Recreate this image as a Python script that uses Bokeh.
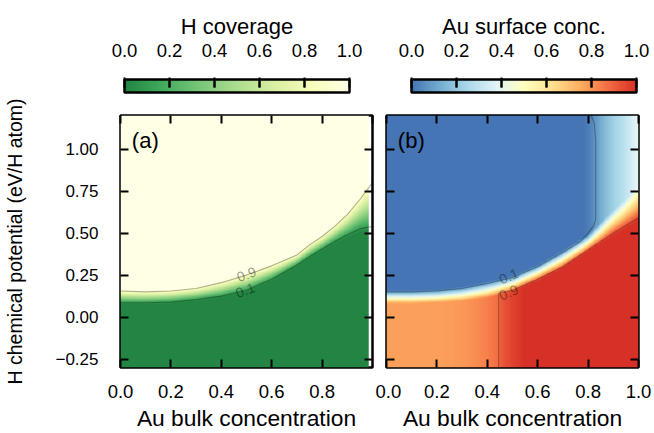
import numpy as np
from bokeh.plotting import figure
from bokeh.layouts import row, column
from bokeh.models import LinearColorMapper, FixedTicker, LinearAxis, Range1d, Title
from bokeh.core.properties import value
from bokeh.embed import file_html
from bokeh.resources import INLINE

FONT = "Liberation Sans"

# ---------------- data ----------------
# Panel (a): H coverage. Transition band edges (0.1 and 0.9 contours) vs Au bulk concentration
a_x = [0.0, 0.1, 0.2, 0.3, 0.4, 0.5, 0.6, 0.7, 0.75, 0.8, 0.85, 0.9, 0.95, 1.0]
a_c01 = [0.085, 0.085, 0.09, 0.105, 0.125, 0.16, 0.225, 0.31, 0.36, 0.405, 0.45, 0.49, 0.525, 0.54]
a_c09 = [0.155, 0.15, 0.155, 0.17, 0.205, 0.25, 0.305, 0.37, 0.43, 0.48, 0.54, 0.61, 0.70, 0.80]
a_x_max = 0.985

# Panel (b): Au surface concentration
b_x = [0.0, 0.1, 0.2, 0.3, 0.4, 0.5, 0.6, 0.7, 0.8, 0.9, 1.0]
b_band_lo = [0.09, 0.09, 0.095, 0.105, 0.125, 0.16, 0.225, 0.30, 0.40, 0.50, 0.59]
b_band_hi = [0.15, 0.15, 0.155, 0.17, 0.20, 0.235, 0.30, 0.385, 0.48, 0.62, 0.75]
# surface conc. below the band (low H potential)
b_low_x = [0.0, 0.2, 0.3, 0.35, 0.4, 0.44, 0.46, 0.5, 0.55, 1.0]
b_low_v = [0.775, 0.775, 0.79, 0.81, 0.84, 0.87, 0.92, 0.96, 1.0, 1.0]
# surface conc. above the band (high H potential)
b_up_x = [0.0, 0.78, 0.81, 0.84, 0.87, 0.9, 0.95, 1.0]
b_up_v = [0.0, 0.0, 0.03, 0.10, 0.17, 0.22, 0.30, 0.40]
# contour lines of panel (b)
b_c01_x = [0.0, 0.1, 0.2, 0.3, 0.4, 0.5, 0.6, 0.7, 0.77, 0.80, 0.82, 0.83, 0.83, 0.825, 0.81]
b_c01_y = [0.15, 0.15, 0.155, 0.17, 0.20, 0.235, 0.30, 0.385, 0.45, 0.50, 0.54, 0.58, 1.05, 1.15, 1.21]
b_c09_x = [0.445, 0.445, 0.5, 0.6, 0.7, 0.8, 0.9, 1.0]
b_c09_y = [-0.3, 0.14, 0.16, 0.225, 0.30, 0.40, 0.50, 0.59]

x_ticks = [0.0, 0.2, 0.4, 0.6, 0.8, 1.0]
x_tick_labels = ["0.0", "0.2", "0.4", "0.6", "0.8", "1.0"]
a_x_ticks = [0.0, 0.2, 0.4, 0.6, 0.8]
y_ticks = [-0.25, 0.0, 0.25, 0.5, 0.75, 1.0]
y_tick_labels = ["\u22120.25", "0.00", "0.25", "0.50", "0.75", "1.00"]
cb_ticks = [0.0, 0.2, 0.4, 0.6, 0.8, 1.0]
cb_tick_labels = ["0.0", "0.2", "0.4", "0.6", "0.8", "1.0"]

Y_MIN, Y_MAX = -0.3, 1.2

# ---------------- layout (pixels) ----------------
FRAME = 252          # panel frame size
BAR_W, BAR_H = 225, 13   # colour-bar size
BAR_PAD = 2          # cb frame margin above/below the bar
A_LEFT, A_RIGHT = 120, 3
B_LEFT, B_RIGHT = 11, 14
A_BAR_OFF, B_BAR_OFF = 4, 25   # bar start relative to the panel frame
CB_H = 94
CB_TOP = 77
TITLE_FS = 22
# approximate text widths (em) of the colour-bar titles, for centring them on the bars
A_TITLE_EM, B_TITLE_EM = 5.113, 7.448

# ---------------- colour maps ----------------
def interp_palette(anchors, n=256):
    rgb = np.array([[int(h[i:i + 2], 16) for i in (1, 3, 5)] for h in anchors], float)
    pos = np.linspace(0, 1, len(anchors))
    out = []
    for v in np.linspace(0, 1, n):
        c = [np.interp(v, pos, rgb[:, k]) for k in range(3)]
        out.append("#%02x%02x%02x" % tuple(int(round(x)) for x in c))
    return out

greens = interp_palette(['#238443', '#41ab5d', '#78c679', '#addd8e', '#d9f0a3', '#f7fcb9', '#ffffe5'])
rdylbu = interp_palette(['#4575b4', '#74add1', '#abd9e9', '#e0f3f8', '#ffffbf',
                         '#fee090', '#fdae61', '#f46d43', '#d73027'])
map_a = LinearColorMapper(palette=greens, low=0, high=1)
map_b = LinearColorMapper(palette=rdylbu, low=0, high=1)

# ---------------- fields ----------------
NX, NY = 300, 450
gy = np.linspace(Y_MIN, Y_MAX, NY)[:, None]

gxa = np.linspace(0, a_x_max, NX)[None, :]
lo = np.interp(gxa, a_x, a_c01)
hi = np.interp(gxa, a_x, a_c09)
field_a = np.clip(0.1 + 0.8 * (gy - lo) / (hi - lo), 0, 1)

gxb = np.linspace(0, 1, NX)[None, :]
lo = np.interp(gxb, b_x, b_band_lo)
hi = np.interp(gxb, b_x, b_band_hi)
s = np.clip(0.1 + 0.8 * (gy - lo) / (hi - lo), 0, 1)
L = np.interp(gxb, b_low_x, b_low_v)
U = np.interp(gxb, b_up_x, b_up_v)
field_b = L + (U - L) * s


# ---------------- helpers ----------------
def key(t):
    return int(t) if float(t).is_integer() else t


def overrides(ticks, labels):
    return {key(t): l for t, l in zip(ticks, labels)}


def style_axis(ax, ticks, labels=None, font_size="18px"):
    ax.ticker = FixedTicker(ticks=ticks)
    ax.axis_line_color = None
    ax.major_tick_in = 8
    ax.major_tick_out = 0
    ax.major_tick_line_width = 2
    ax.major_tick_line_color = "black"
    ax.minor_tick_line_color = None
    ax.major_label_text_font = FONT
    ax.major_label_text_color = "black"
    ax.axis_label_text_font = FONT
    ax.axis_label_text_font_style = "normal"
    ax.axis_label_text_color = "black"
    if labels is None:
        ax.major_label_overrides = overrides(ticks, [""] * len(ticks))
        ax.major_label_text_font_size = "1px"
        ax.major_label_standoff = 0
    else:
        ax.major_label_overrides = overrides(ticks, labels)
        ax.major_label_text_font_size = font_size


def main_fig(left, right):
    p = figure(width=left + FRAME + right, height=433 - CB_H,
               x_range=Range1d(0, 1), y_range=Range1d(Y_MIN, Y_MAX),
               output_backend="svg", toolbar_location=None,
               min_border_left=left, min_border_right=right,
               min_border_top=115 - CB_H, min_border_bottom=66)
    p.grid.visible = False
    p.outline_line_color = "black"
    p.outline_line_width = 2.5
    p.background_fill_color = "white"
    p.border_fill_color = "white"
    top = LinearAxis()
    rgt = LinearAxis()
    style_axis(top, x_ticks)
    style_axis(rgt, y_ticks)
    p.add_layout(top, "above")
    p.add_layout(rgt, "right")
    return p


def cb_fig(left, right, bar_off, title, title_em, mapper):
    x0 = -bar_off / BAR_W
    x1 = (FRAME - bar_off) / BAR_W
    y0 = -BAR_PAD / BAR_H
    y1 = 1 + BAR_PAD / BAR_H
    p = figure(width=left + FRAME + right, height=CB_H,
               x_range=Range1d(x0, x1), y_range=Range1d(y0, y1),
               x_axis_location="above", y_axis_type=None,
               output_backend="svg", toolbar_location=None,
               min_border_left=left, min_border_right=right,
               min_border_top=CB_TOP, min_border_bottom=CB_H - CB_TOP - BAR_H - 2 * BAR_PAD)
    p.grid.visible = False
    p.outline_line_color = None
    p.background_fill_color = "white"
    p.border_fill_color = "white"
    grad = np.linspace(0, 1, 256)[None, :]
    p.image(image=[grad], x=0, y=0, dw=1, dh=1, color_mapper=mapper)
    p.quad(left=[0], right=[1], bottom=[0], top=[1], fill_color=None,
           line_color="black", line_width=2.5)
    p.ray(x=cb_ticks[1:-1], y=1, length=8, length_units="screen", angle=-np.pi / 2,
          line_color="black", line_width=2)
    ax = p.above[0]
    style_axis(ax, cb_ticks, cb_tick_labels, "18.5px")
    ax.major_tick_in = 10
    ax.major_label_standoff = 21
    offset = bar_off + BAR_W / 2 - title_em * TITLE_FS / 2
    p.add_layout(Title(text=title, align="left", offset=offset, text_font=FONT,
                       text_font_size="%dpx" % TITLE_FS, text_font_style="normal",
                       text_color="black", standoff=4), "above")
    return p


# ---------------- panel (a) ----------------
fa = main_fig(A_LEFT, A_RIGHT)
fa.image(image=[field_a], x=0, y=Y_MIN, dw=a_x_max, dh=Y_MAX - Y_MIN, color_mapper=map_a)
fa.line(a_x, a_c09, line_color="black", line_alpha=0.3, line_width=1.1)
fa.line(a_x, a_c01, line_color="black", line_alpha=0.3, line_width=1.1)
fa.text(x=[0.50, 0.495], y=[0.255, 0.16], text=["0.9", "0.1"], angle=0.35,
        text_align="center", text_baseline="middle", text_font=value(FONT),
        text_font_size="14px", text_color="black", text_alpha=0.4)
fa.text(x=[0.045], y=[1.05], text=["(a)"], text_align="left", text_baseline="middle",
        text_font=value(FONT), text_font_size="22px", text_color="black")
xa = fa.below[0]
style_axis(xa, a_x_ticks, x_tick_labels[:5], "18.5px")
xa.major_label_standoff = 17
xa.axis_label = "Au bulk concentration"
xa.axis_label_text_font_size = "22.8px"
xa.axis_label_standoff = 4
ya = fa.left[0]
style_axis(ya, y_ticks, y_tick_labels, "17px")
ya.major_label_standoff = 22
ya.axis_label = "H chemical potential (eV/H atom)"
ya.axis_label_text_font_size = "19.5px"
ya.axis_label_standoff = 26

# ---------------- panel (b) ----------------
fb = main_fig(B_LEFT, B_RIGHT)
fb.image(image=[field_b], x=0, y=Y_MIN, dw=1, dh=Y_MAX - Y_MIN, color_mapper=map_b)
fb.line(b_c01_x, b_c01_y, line_color="black", line_alpha=0.3, line_width=1.1)
fb.line(b_c09_x, b_c09_y, line_color="black", line_alpha=0.3, line_width=1.1)
fb.text(x=[0.485, 0.485], y=[0.243, 0.147], text=["0.1", "0.9"], angle=0.42,
        text_align="center", text_baseline="middle", text_font=value(FONT),
        text_font_size="14px", text_color="black", text_alpha=0.4)
fb.text(x=[0.045], y=[1.05], text=["(b)"], text_align="left", text_baseline="middle",
        text_font=value(FONT), text_font_size="22px", text_color="black")
xb = fb.below[0]
style_axis(xb, x_ticks, x_tick_labels, "18.5px")
xb.major_label_standoff = 17
xb.axis_label = "Au bulk concentration"
xb.axis_label_text_font_size = "22.8px"
xb.axis_label_standoff = 4
style_axis(fb.left[0], y_ticks)

# ---------------- colour bars ----------------
cba = cb_fig(A_LEFT, A_RIGHT, A_BAR_OFF, "H coverage", A_TITLE_EM, map_a)
cbb = cb_fig(B_LEFT, B_RIGHT, B_BAR_OFF, "Au surface conc.", B_TITLE_EM, map_b)

layout = row(column(cba, fa, spacing=0), column(cbb, fb, spacing=0), spacing=0)
open("out.html", "w").write(file_html(layout, INLINE))
